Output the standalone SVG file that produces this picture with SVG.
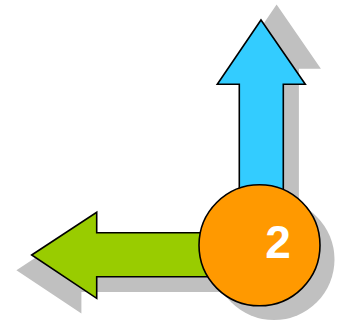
<svg xmlns="http://www.w3.org/2000/svg" width="340" height="323" viewBox="0 0 340 323">
<style>
.sh{fill:#C0C0C0;stroke:none}
.ol{stroke:#000;stroke-width:1.6;stroke-linejoin:miter}
.num{font-family:"Liberation Sans",Arial,sans-serif;font-weight:bold;font-size:46px;fill:#fff}
</style>
<defs>
<polygon id="upArrow" points="261,20 305.3,84.3 283.3,84.3 283.3,240 239.3,240 239.3,84.3 217.3,84.3"/>
<polygon id="leftArrow" points="31.7,255 96.7,212.3 96.7,232.7 240,232.7 240,276.7 96.7,276.7 96.7,298.3"/>
</defs>
<g id="shadows">
<use href="#upArrow" class="sh" transform="translate(15.6,-15.6)"/>
<use href="#leftArrow" class="sh" transform="translate(-15.3,15.3)"/>
<circle cx="274" cy="259.5" r="60.5" class="sh"/>
</g>
<g id="connectors">
<g id="arrow-up"><use href="#upArrow" class="ol" fill="#33CCFF"/></g>
<g id="arrow-left"><use href="#leftArrow" class="ol" fill="#99CC00"/></g>
</g>
<g id="node-2">
<circle cx="259.5" cy="245.3" r="60.5" class="ol" fill="#FF9900"/>
<text x="278" y="258" text-anchor="middle" class="num">2</text>
</g>
</svg>
